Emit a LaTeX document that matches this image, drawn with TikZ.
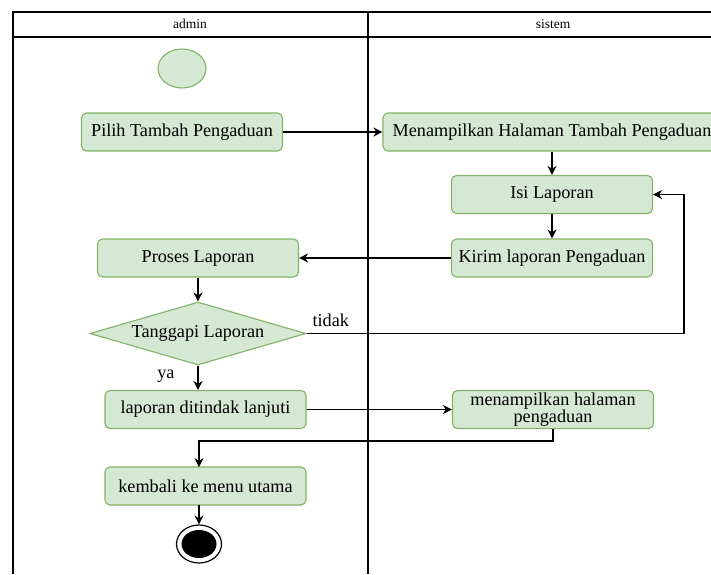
\documentclass[tikz,border=0pt]{standalone}
\usepackage{fontspec}
\setmainfont{Liberation Serif}
\usetikzlibrary{shapes.geometric,arrows.meta}
\definecolor{actfill}{HTML}{D5E8D4}
\definecolor{actline}{HTML}{82B366}
\begin{document}
\begin{tikzpicture}[x=1pt,y=-1pt,
  act/.style={draw=actline,fill=actfill,rounded corners=5pt,line width=1.1pt,
    minimum width=201pt,minimum height=38pt,inner sep=2pt,align=center,
    font=\fontsize{18.2}{16}\selectfont},
  decision/.style={draw=actline,fill=actfill,shape=diamond,line width=1.1pt,
    aspect=3.4,inner sep=0pt,minimum width=216pt,minimum height=63pt,
    font=\fontsize{18.2}{20}\selectfont},
  lane/.style={line width=1.2pt},
  flow/.style={line width=1.2pt,-{Stealth[length=9pt,width=9pt]}},
  lbl/.style={font=\fontsize{18.2}{20}\selectfont}]

\clip (0,0) rectangle (711,574);
\fill[white] (0,0) rectangle (711,574);

\draw[lane] (13,574) -- (13,12) -- (720,12);
\draw[lane] (13,37) -- (720,37);
\draw[lane] (368,12) -- (368,574);
\node[font=\fontsize{13.5}{15}\selectfont] (admin) at (190,24) {admin};
\node[font=\fontsize{13.5}{15}\selectfont] (sistem) at (553,24) {sistem};

\node[draw=actline,fill=actfill,line width=1.1pt,shape=ellipse,
  minimum width=48pt,minimum height=39pt] (start) at (182,68.5) {};
\node[act] (pilih) at (182,132) {Pilih Tambah Pengaduan};
\node[act,minimum width=338pt] (tampil) at (552,132) {Menampilkan Halaman Tambah Pengaduan};
\node[act] (isi) at (552,194.5) {Isi Laporan};
\node[act] (kirim) at (552,258) {Kirim laporan Pengaduan};
\node[act] (proses) at (198,258) {Proses Laporan};
\node[decision] (tanggapi) at (198,333.5) {Tanggapi Laporan};
\node[act] (lanjut) at (205.5,409.5) {laporan ditindak lanjuti};
\node[act] (halaman) at (553,409.5) {menampilkan halaman\\pengaduan};
\node[act] (kembali) at (205.5,486) {kembali ke menu utama};
\node[draw,line width=1.2pt,shape=ellipse,minimum width=45pt,minimum height=38pt] (stop) at (199,544) {};
\node[fill=black,shape=ellipse,minimum width=35pt,minimum height=28pt] (stopin) at (199,544) {};

\draw[flow] (pilih) -- (tampil);
\draw[flow] (tampil) -- (isi);
\draw[flow] (isi) -- (kirim);
\draw[flow] (kirim) -- (proses);
\draw[flow] (proses) -- (tanggapi);
\draw[flow] (tanggapi.east) -- (684,333.5) -- (684,194.5) -- (isi.east);
\node[lbl,anchor=base west] (tidak) at (309,326) {tidak};
\draw[flow] (tanggapi.south) -- (tanggapi.south |- lanjut.north);
\node[lbl,anchor=base east] (ya) at (178,378) {ya};
\draw[flow] (lanjut) -- (halaman);
\draw[flow] (halaman.south) -- (553,441) -- (199,441) -- (199,467);
\draw[flow] (199,505) -- (stop);

\end{tikzpicture}
\end{document}
